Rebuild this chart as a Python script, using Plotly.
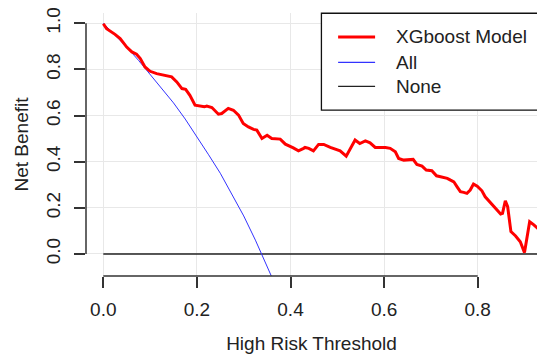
import plotly.graph_objects as go

# ---- data ----
threshold_model = [0.000, 0.007, 0.025, 0.036, 0.050, 0.061, 0.071, 0.079, 0.089, 0.100,
                   0.114, 0.128, 0.146, 0.157, 0.168, 0.176, 0.185, 0.196, 0.216, 0.221,
                   0.232, 0.246, 0.253, 0.267, 0.278, 0.289, 0.299, 0.310, 0.321, 0.328,
                   0.339, 0.350, 0.360, 0.378, 0.389, 0.406, 0.417, 0.428, 0.431, 0.439,
                   0.449, 0.460, 0.471, 0.485, 0.496, 0.506, 0.519, 0.528, 0.538, 0.548,
                   0.560, 0.570, 0.581, 0.603, 0.613, 0.624, 0.631, 0.642, 0.662, 0.670,
                   0.681, 0.690, 0.702, 0.712, 0.724, 0.735, 0.742, 0.749, 0.756, 0.763,
                   0.770, 0.777, 0.784, 0.791, 0.799, 0.809, 0.816, 0.827, 0.838, 0.849,
                   0.853, 0.859, 0.864, 0.871, 0.881, 0.891, 0.900, 0.911, 0.920, 0.928, 0.94]
nb_model = [0.998, 0.977, 0.952, 0.934, 0.897, 0.876, 0.866, 0.847, 0.811, 0.792,
            0.782, 0.775, 0.768, 0.746, 0.717, 0.714, 0.688, 0.645, 0.638, 0.641,
            0.635, 0.606, 0.609, 0.631, 0.623, 0.602, 0.566, 0.551, 0.540, 0.537,
            0.501, 0.515, 0.501, 0.498, 0.476, 0.460, 0.447, 0.458, 0.462, 0.458,
            0.447, 0.475, 0.475, 0.462, 0.453, 0.447, 0.424, 0.458, 0.494, 0.479,
            0.490, 0.482, 0.462, 0.462, 0.458, 0.443, 0.414, 0.407, 0.410, 0.388,
            0.381, 0.364, 0.361, 0.339, 0.332, 0.328, 0.320, 0.313, 0.291, 0.270,
            0.267, 0.263, 0.277, 0.303, 0.294, 0.274, 0.248, 0.222, 0.198, 0.173,
            0.176, 0.231, 0.205, 0.097, 0.078, 0.053, 0.006, 0.140, 0.126, 0.111, 0.09]

threshold_all = [0.0, 0.025, 0.05, 0.075, 0.1, 0.125, 0.15, 0.175, 0.2, 0.225,
                 0.25, 0.275, 0.3, 0.325, 0.35, 0.36]
nb_all = [1.0, 0.95, 0.897, 0.84, 0.78, 0.72, 0.655, 0.585, 0.51, 0.43,
          0.35, 0.26, 0.165, 0.06, -0.05, -0.10]

threshold_none = [0.0, 1.0]
nb_none = [0.0, 0.0]

x_ticks = [0.0, 0.2, 0.4, 0.6, 0.8]
y_ticks = [0.0, 0.2, 0.4, 0.6, 0.8, 1.0]

series_names = ["XGboost Model", "All", "None"]
series_colors = ["#ff0000", "#3333ff", "#222222"]
series_widths = [3.0, 1.0, 1.5]

FONT = "Liberation Sans, Arial, sans-serif"
TXT = "#222222"

fig = go.Figure()
fig.add_trace(go.Scatter(x=threshold_none, y=nb_none, mode="lines", name=series_names[2],
                         line=dict(color=series_colors[2], width=series_widths[2]), showlegend=False))
fig.add_trace(go.Scatter(x=threshold_all, y=nb_all, mode="lines", name=series_names[1],
                         line=dict(color=series_colors[1], width=series_widths[1]), showlegend=False))
fig.add_trace(go.Scatter(x=threshold_model, y=nb_model, mode="lines", name=series_names[0],
                         line=dict(color=series_colors[0], width=series_widths[0]), showlegend=False))

# axis lines spanning only the tick range (R style)
fig.add_shape(type="line", xref="x", yref="paper", x0=min(x_ticks), x1=max(x_ticks), y0=0, y1=0,
              line=dict(color="#333333", width=1.5))
fig.add_shape(type="line", xref="paper", yref="y", x0=0, x1=0, y0=min(y_ticks), y1=max(y_ticks),
              line=dict(color="#333333", width=1.5))

# manual legend (box extends past the right edge as in the reference)
fig.add_shape(type="rect", xref="paper", yref="paper", x0=0.522, x1=1.05, y0=0.631, y1=0.999,
              line=dict(color="#111111", width=1.3), fillcolor="white", layer="above")
rows = [0.909, 0.812, 0.721]
for name, col, w, ry in zip(series_names, series_colors, [3.0, 1.2, 1.2], rows):
    fig.add_shape(type="line", xref="paper", yref="paper", x0=0.559, x1=0.641, y0=ry, y1=ry,
                  line=dict(color=col, width=w), layer="above")
    fig.add_annotation(xref="paper", yref="paper", x=0.683, y=ry, text=name, showarrow=False,
                       xanchor="left", yanchor="middle", font=dict(family=FONT, size=19, color=TXT))

fig.update_layout(
    width=537, height=356,
    margin=dict(l=86, r=0, t=13, b=80),
    paper_bgcolor="white", plot_bgcolor="white",
    showlegend=False,
    font=dict(family=FONT, size=19, color=TXT),
)
fig.update_xaxes(range=[-0.037, 0.9267], tickvals=x_ticks, ticktext=[f"{v:.1f}" for v in x_ticks],
                 ticks="outside", ticklen=11, tickwidth=1.5, tickcolor="#333333",
                 ticklabelstandoff=5,
                 showline=False, zeroline=False, showgrid=True, gridcolor="#e8e8e8", gridwidth=1,
                 title=dict(text="High Risk Threshold", standoff=17, font=dict(size=19)),
                 tickfont=dict(size=19))
fig.update_yaxes(range=[-0.0954, 1.0447], tickvals=y_ticks, ticktext=[f"{v:.1f}" for v in y_ticks],
                 tickangle=-90,
                 ticks="outside", ticklen=11, tickwidth=1.5, tickcolor="#333333",
                 ticklabelstandoff=6,
                 showline=False, zeroline=False, showgrid=True, gridcolor="#e8e8e8", gridwidth=1,
                 title=dict(text="Net Benefit", standoff=9, font=dict(size=19)),
                 tickfont=dict(size=19))

fig.write_html("out.html")
